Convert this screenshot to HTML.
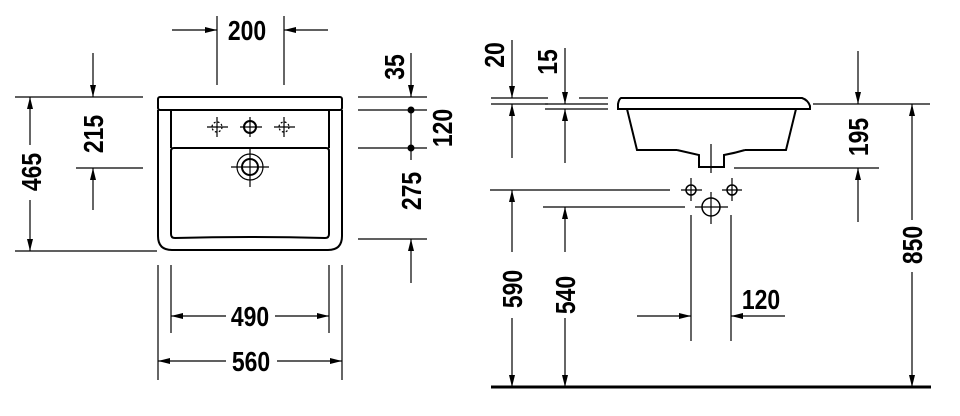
<!DOCTYPE html>
<html><head><meta charset="utf-8"><style>
html,body{margin:0;padding:0;background:#fff;width:960px;height:416px;overflow:hidden}
svg{display:block}
text{font-family:"Liberation Sans",sans-serif;font-weight:bold;font-size:28px;fill:#000}
</style></head><body>
<svg width="960" height="416" viewBox="0 0 960 416" xmlns="http://www.w3.org/2000/svg">
<defs>
<marker id="a" viewBox="0 0 12 6" refX="12" refY="3" markerWidth="12" markerHeight="6" markerUnits="userSpaceOnUse" orient="auto"><path d="M0,0 L12,3 L0,6 Z" fill="#000"/></marker>
</defs>
<g stroke="#000" stroke-width="1.2" fill="none">
<line x1="217" y1="16" x2="217" y2="85"/><line x1="284" y1="16" x2="284" y2="85"/>
<line x1="172" y1="30" x2="217" y2="30" marker-end="url(#a)"/>
<line x1="328" y1="30" x2="284" y2="30" marker-end="url(#a)"/>
<g stroke-width="2">
<rect x="158" y="97" width="184" height="13" rx="2"/>
<path d="M158,110 L158,236 Q158,250 172,250 L328,250 Q342,250 342,236 L342,110"/>
<path d="M171,110 L171,148 M329,110 L329,148"/>
<path d="M174,148 L326,148 Q329,148 329,151 L329,234 Q329,238 325,238 Q250,236 175,238 Q171,238 171,234 L171,151 Q171,148 174,148 Z"/>
</g>
<circle cx="250" cy="127" r="6" stroke-width="2"/>
<line x1="240" y1="127" x2="262" y2="127"/><line x1="250" y1="117" x2="250" y2="137"/>
<circle cx="217" cy="127" r="5" stroke-dasharray="2,2"/>
<line x1="207" y1="127" x2="228" y2="127"/><line x1="217" y1="117" x2="217" y2="137"/>
<circle cx="284" cy="127" r="5" stroke-dasharray="2,2"/>
<line x1="274" y1="127" x2="295" y2="127"/><line x1="284" y1="117" x2="284" y2="137"/>
<circle cx="250" cy="167" r="13"/><circle cx="250" cy="167" r="8" stroke-width="2"/>
<line x1="231" y1="167" x2="269" y2="167"/><line x1="250" y1="148" x2="250" y2="187"/>
<line x1="15" y1="97" x2="143" y2="97"/><line x1="15" y1="251" x2="157" y2="251"/>
<line x1="30" y1="145" x2="30" y2="97" marker-end="url(#a)"/>
<line x1="30" y1="200" x2="30" y2="251" marker-end="url(#a)"/>
<line x1="93" y1="53" x2="93" y2="97" marker-end="url(#a)"/>
<line x1="93" y1="210" x2="93" y2="168" marker-end="url(#a)"/>
<line x1="76" y1="168" x2="143" y2="168"/>
<line x1="358" y1="97" x2="427" y2="97"/><line x1="358" y1="110" x2="427" y2="110"/>
<line x1="358" y1="148" x2="427" y2="148"/><line x1="358" y1="239" x2="427" y2="239"/>
<line x1="411" y1="53" x2="411" y2="97" marker-end="url(#a)"/>
<line x1="411" y1="110" x2="411" y2="160"/>
<line x1="411" y1="283" x2="411" y2="239" marker-end="url(#a)"/>
<line x1="158" y1="265" x2="158" y2="380"/><line x1="342" y1="265" x2="342" y2="380"/>
<line x1="171" y1="265" x2="171" y2="333"/><line x1="329" y1="265" x2="329" y2="333"/>
<line x1="226" y1="316" x2="171" y2="316" marker-end="url(#a)"/>
<line x1="275" y1="316" x2="329" y2="316" marker-end="url(#a)"/>
<line x1="226" y1="361" x2="158" y2="361" marker-end="url(#a)"/>
<line x1="277" y1="361" x2="342" y2="361" marker-end="url(#a)"/>

<line x1="491" y1="98" x2="548" y2="98"/><line x1="491" y1="104" x2="548" y2="104"/>
<line x1="579" y1="98" x2="608" y2="98"/><line x1="545" y1="104" x2="608" y2="104"/><line x1="545" y1="109" x2="608" y2="109"/>
<line x1="512" y1="40" x2="512" y2="98" marker-end="url(#a)"/>
<line x1="512" y1="158" x2="512" y2="104" marker-end="url(#a)"/>
<line x1="565" y1="48" x2="565" y2="104" marker-end="url(#a)"/>
<line x1="565" y1="163" x2="565" y2="109" marker-end="url(#a)"/>
<g stroke-width="2">
<path d="M621,98 L802,98 Q808,100 810,106 L810,109 L618,109 L618,104 Q619,99 621,98 Z"/>
<path d="M627,109 L637,150 L677,150 M745,150 L786,150 L796,109"/>
<path d="M677,150 Q690,153 699,155 L699,167 L724,167 L724,155 Q735,153 745,150"/>
</g>
<line x1="711" y1="144" x2="711" y2="173"/>
<line x1="813" y1="104" x2="930" y2="104"/>
<line x1="734" y1="168" x2="879" y2="168"/>
<line x1="858" y1="51" x2="858" y2="104" marker-end="url(#a)"/>
<line x1="858" y1="222" x2="858" y2="168" marker-end="url(#a)"/>
<line x1="912" y1="220" x2="912" y2="104" marker-end="url(#a)"/>
<line x1="912" y1="272" x2="912" y2="387" marker-end="url(#a)"/>
<line x1="490" y1="190" x2="670" y2="190"/>
<line x1="543" y1="207" x2="685" y2="207"/>
<line x1="512" y1="252" x2="512" y2="190" marker-end="url(#a)"/>
<line x1="512" y1="318" x2="512" y2="387" marker-end="url(#a)"/>
<line x1="565" y1="252" x2="565" y2="207" marker-end="url(#a)"/>
<line x1="565" y1="318" x2="565" y2="387" marker-end="url(#a)"/>
<circle cx="691" cy="190" r="5" stroke-width="1.5"/><line x1="681" y1="190" x2="702" y2="190"/><line x1="691" y1="178" x2="691" y2="201"/>
<circle cx="732" cy="190" r="5" stroke-width="1.5"/><line x1="722" y1="190" x2="742" y2="190"/><line x1="732" y1="178" x2="732" y2="201"/>
<circle cx="711" cy="207" r="9" stroke-width="1.5"/><line x1="695" y1="207" x2="728" y2="207"/><line x1="711" y1="192" x2="711" y2="224"/>
<line x1="691" y1="215" x2="691" y2="341"/><line x1="731" y1="215" x2="731" y2="341"/>
<line x1="637" y1="316" x2="691" y2="316" marker-end="url(#a)"/>
<line x1="785" y1="316" x2="731" y2="316" marker-end="url(#a)"/>
<line x1="491" y1="387" x2="931" y2="387" stroke-width="3"/>
</g>
<circle cx="411" cy="110" r="3.5"/><circle cx="411" cy="148" r="3.5"/>
<g text-anchor="middle">
<text transform="translate(247,40) scale(0.82,1)">200</text>
<text transform="translate(250,326) scale(0.82,1)">490</text>
<text transform="translate(251,371) scale(0.82,1)">560</text>
<text transform="translate(761,309) scale(0.82,1)">120</text>
<text transform="translate(41,172) rotate(-90) scale(0.82,1)">465</text>
<text transform="translate(103,134) rotate(-90) scale(0.82,1)">215</text>
<text transform="translate(404,67) rotate(-90) scale(0.82,1)">35</text>
<text transform="translate(452,128) rotate(-90) scale(0.82,1)">120</text>
<text transform="translate(421,191) rotate(-90) scale(0.82,1)">275</text>
<text transform="translate(504,55) rotate(-90) scale(0.82,1)">20</text>
<text transform="translate(557,62) rotate(-90) scale(0.82,1)">15</text>
<text transform="translate(868,137) rotate(-90) scale(0.82,1)">195</text>
<text transform="translate(922,245) rotate(-90) scale(0.82,1)">850</text>
<text transform="translate(522,289) rotate(-90) scale(0.82,1)">590</text>
<text transform="translate(575,295) rotate(-90) scale(0.82,1)">540</text>
</g>
</svg>
</body></html>
